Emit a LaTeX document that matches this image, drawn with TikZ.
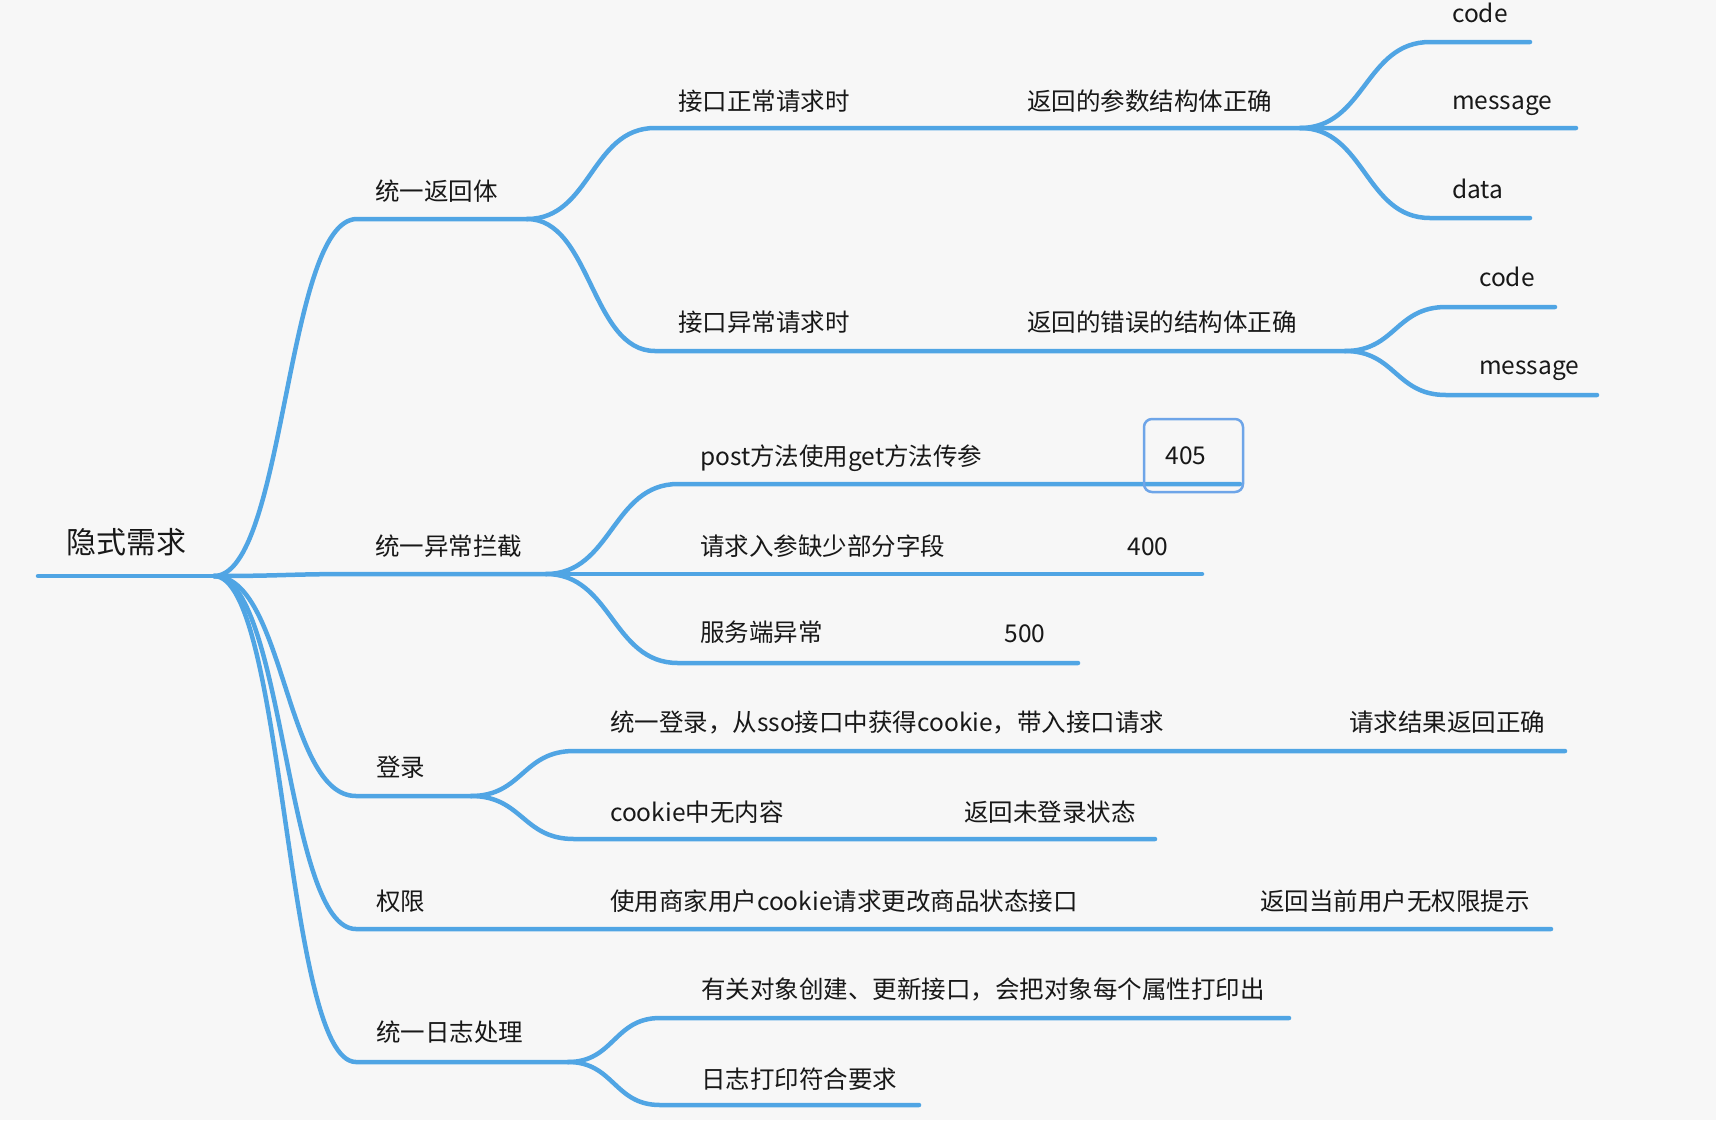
\documentclass[tikz,border=0pt]{standalone}
\usepackage{fontspec}
\setmainfont{Noto Sans CJK SC}
\usetikzlibrary{calc}
\definecolor{bgc}{RGB}{247,247,247}
\definecolor{brc}{RGB}{80,165,228}
\definecolor{boxc}{RGB}{110,165,232}
\definecolor{txc}{RGB}{24,24,24}
\tikzset{
  lbl/.style={anchor=west, inner sep=0pt, text height=0.88em, text depth=0.12em,
    font=\fontsize{24.5}{28}\selectfont, text=txc, yshift=-5pt},
  numlbl/.style={lbl, anchor=center},
  rootlbl/.style={lbl, font=\fontsize{30}{34}\selectfont, yshift=-2pt},
  ln/.style={draw=brc, line width=4.5pt, line cap=round, line join=round},
  curve/.style={to path={let \p1=(\tikztostart), \p2=(\tikztotarget) in
    .. controls ({0.5*\x1+0.5*\x2},\y1) and ({0.5*\x1+0.5*\x2},\y2) .. (\tikztotarget)}},
  hbox/.style={draw=boxc, line width=2.5pt, rounded corners=8pt, minimum width=99pt,
    minimum height=73pt, inner sep=0pt}
}
\begin{document}
\begin{tikzpicture}[x=1pt,y=-1pt]
\fill[bgc] (0,0) rectangle (1716,1120);
\useasboundingbox (0,0) rectangle (1716,1120);

% coordinates
\coordinate (r0) at (38,576);
\coordinate (rJ) at (214,576);
\coordinate (a0) at (357,219);
\coordinate (aJ) at (527,219);
\coordinate (a1s) at (655,128);
\coordinate (a1J) at (1300,128);
\coordinate (a1e) at (1576,128);
\coordinate (k1s) at (1430,42);
\coordinate (k1e) at (1530,42);
\coordinate (t1s) at (1430,218);
\coordinate (t1e) at (1530,218);
\coordinate (a2s) at (655,351);
\coordinate (a2J) at (1345,351);
\coordinate (k2s) at (1446,307);
\coordinate (k2e) at (1555,307);
\coordinate (m2s) at (1446,395);
\coordinate (m2e) at (1597,395);
\coordinate (b0) at (357,574);
\coordinate (bJ) at (546,574);
\coordinate (b1s) at (678,484);
\coordinate (b1e) at (1240,484);
\coordinate (b2e) at (1202,574);
\coordinate (b3s) at (678,663);
\coordinate (b3e) at (1078,663);
\coordinate (c0) at (356,796);
\coordinate (cJ) at (471,796);
\coordinate (c1s) at (574,751);
\coordinate (c1e) at (1565,751);
\coordinate (c2s) at (574,839);
\coordinate (c2e) at (1155,839);
\coordinate (d0) at (356,929);
\coordinate (de) at (1551,929);
\coordinate (e0) at (356,1062);
\coordinate (eJ) at (568,1062);
\coordinate (e1s) at (660,1018);
\coordinate (e1e) at (1289,1018);
\coordinate (e2s) at (660,1105);
\coordinate (e2e) at (919,1105);

% connectors
\draw[ln] (r0) -- (rJ);
\draw[ln] (rJ) to[curve] (a0) -- (aJ);
\draw[ln] (aJ) to[curve] (a1s) -- (a1J) -- (a1e);
\draw[ln] (a1J) to[curve] (k1s) -- (k1e);
\draw[ln] (a1J) to[curve] (t1s) -- (t1e);
\draw[ln] (aJ) to[curve] (a2s) -- (a2J);
\draw[ln] (a2J) to[curve] (k2s) -- (k2e);
\draw[ln] (a2J) to[curve] (m2s) -- (m2e);
\draw[ln] (rJ) to[curve] (b0) -- (bJ);
\draw[ln] (bJ) to[curve] (b1s) -- (b1e);
\draw[ln] (bJ) -- (b2e);
\draw[ln] (bJ) to[curve] (b3s) -- (b3e);
\draw[ln] (rJ) to[curve] (c0) -- (cJ);
\draw[ln] (cJ) to[curve] (c1s) -- (c1e);
\draw[ln] (cJ) to[curve] (c2s) -- (c2e);
\draw[ln] (rJ) to[curve] (d0) -- (de);
\draw[ln] (rJ) to[curve] (e0) -- (eJ);
\draw[ln] (eJ) to[curve] (e1s) -- (e1e);
\draw[ln] (eJ) to[curve] (e2s) -- (e2e);

% 405 highlight box
\node[hbox] (box405) at (1193.5,455.5) {};

% labels
\node[rootlbl] (root) at (66,543) {隐式需求};
\node[lbl] (nA) at (375,192) {统一返回体};
\node[lbl] (nA1) at (678,102) {接口正常请求时};
\node[lbl] (nA1r) at (1027,102) {返回的参数结构体正确};
\node[lbl] (nK1) at (1452,14) {code};
\node[lbl] (nM1) at (1452,101) {message};
\node[lbl] (nT1) at (1452,190) {data};
\node[lbl] (nA2) at (678,323) {接口异常请求时};
\node[lbl] (nA2r) at (1027,323) {返回的错误的结构体正确};
\node[lbl] (nK2) at (1479,278) {code};
\node[lbl] (nM2) at (1479,366) {message};
\node[lbl] (nB) at (375,547) {统一异常拦截};
\node[lbl] (nB1) at (700,457) {post方法使用get方法传参};
\node[numlbl] (n405) at (1186,456) {405};
\node[lbl] (nB2) at (700,547) {请求入参缺少部分字段};
\node[numlbl] (n400) at (1148,547) {400};
\node[lbl] (nB3) at (700,633) {服务端异常};
\node[numlbl] (n500) at (1025,634) {500};
\node[lbl] (nC) at (376,768) {登录};
\node[lbl] (nC1) at (610,723) {统一登录，从sso接口中获得cookie，带入接口请求};
\node[lbl] (nC1r) at (1349,723) {请求结果返回正确};
\node[lbl] (nC2) at (610,813) {cookie中无内容};
\node[lbl] (nC2r) at (964,813) {返回未登录状态};
\node[lbl] (nD) at (376,902) {权限};
\node[lbl] (nD1) at (610,902) {使用商家用户cookie请求更改商品状态接口};
\node[lbl] (nD1r) at (1260,902) {返回当前用户无权限提示};
\node[lbl] (nE) at (376,1033) {统一日志处理};
\node[lbl] (nE1) at (701,990) {有关对象创建、更新接口，会把对象每个属性打印出};
\node[lbl] (nE2) at (701,1080) {日志打印符合要求};
\end{tikzpicture}
\end{document}
